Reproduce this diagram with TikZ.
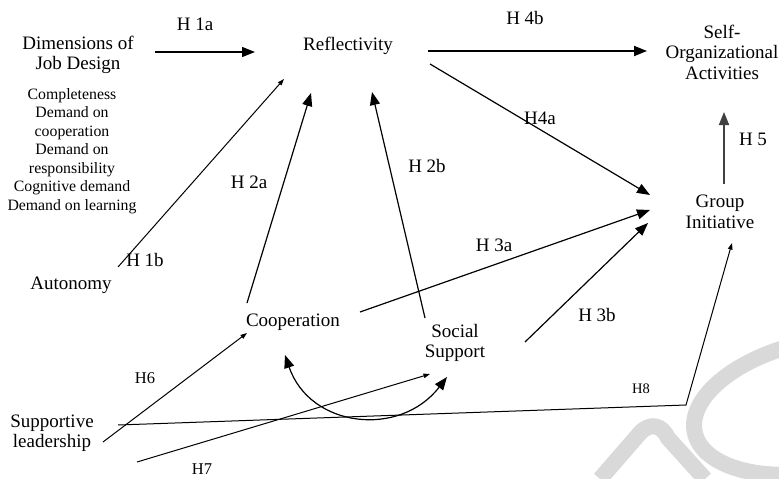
\documentclass[tikz,border=0pt]{standalone}
\usepackage{fontspec}
\setmainfont{Liberation Serif}
\usetikzlibrary{calc,positioning,arrows.meta}
\tikzstyle{var}       = [align=center, inner sep=0pt, font=\fontsize{19}{20.5}\selectfont]
\tikzstyle{facet}     = [align=center, inner sep=0pt, font=\fontsize{15.8}{18.5}\selectfont]
\tikzstyle{hyp}       = [inner sep=0pt, font=\fontsize{19}{20}\selectfont]
\tikzstyle{arrow}     = [line width=1.2pt, -{Triangle[length=13pt,width=10pt]}]
\tikzstyle{thinarrow} = [line width=1pt, -{Triangle[length=6.5pt,width=4.5pt]}]
\tikzstyle{wmark}     = [line width=16pt, black!15]

\begin{document}
\begin{tikzpicture}[x=1pt,y=-1pt]
    \useasboundingbox (0,0) rectangle (779,479);
    \begin{scope}
        \clip (0,0) rectangle (779,479);
        \draw[wmark, rotate around={12:(819,406)}] (819,406) ellipse [x radius=127, y radius=65];
        \draw[wmark] (600,479) -- (640,433) .. controls (650,422) and (662,425) .. (668,438) -- (705,479);
    \end{scope}

    \node[var] (dims) at (78,55) {Dimensions of\\Job Design};
    \node[facet] (facets) at (72,151) {Completeness\\Demand on\\cooperation\\Demand on\\responsibility\\Cognitive demand\\Demand on learning};
    \node[var] (refl) at (348,46) {Reflectivity};
    \node[var] (auto) at (71,285) {Autonomy};
    \node[var] (coop) at (293,322) {Cooperation};
    \node[var] (soc) at (455,343) {Social\\Support};
    \node[var] (self) at (722,52) {Self-\\Organizational\\Activities};
    \node[var] (grp) at (720,212) {Group\\Initiative};
    \node[var] (lead) at (52,433) {Supportive\\leadership};

    \node[hyp] (h1a) at (195,24) {H 1a};
    \node[hyp] (h1b) at (145,260) {H 1b};
    \node[hyp] (h2a) at (249,182) {H 2a};
    \node[hyp] (h2b) at (427,166) {H 2b};
    \node[hyp] (h4b) at (525,18) {H 4b};
    \node[hyp] (h4a) at (540,118) {H4a};
    \node[hyp] (h5) at (753,139) {H 5};
    \node[hyp] (h3a) at (494,245) {H 3a};
    \node[hyp] (h3b) at (597,315) {H 3b};
    \node[hyp, font=\fontsize{16.5}{18}\selectfont] (h6) at (145,378) {H6};
    \node[hyp, font=\fontsize{16.5}{18}\selectfont] (h7) at (202,469) {H7};
    \node[hyp, font=\fontsize{14.5}{16}\selectfont] (h8) at (641,389) {H8};

    \draw[arrow] ($(dims)+(77,-3)$) -- ($(refl)+(-93,6)$);
    \draw[thinarrow] ($(auto)+(47,-18)$) -- ($(refl)+(-64,33)$);
    \draw[arrow] ($(coop)+(-46,-19)$) -- ($(refl)+(-37,47)$);
    \draw[arrow] ($(soc)+(-30,-25)$) -- ($(refl)+(24,46)$);
    \draw[arrow, line width=1.8pt] ($(refl)+(80,5)$) -- ($(self)+(-75,-1)$);
    \draw[arrow] ($(refl)+(82,18)$) -- ($(grp)+(-70,-17)$);
    \draw[arrow, line width=1.8pt, black!75] ($(grp)+(4,-28)$) -- ($(self)+(2,60)$);
    \draw[arrow] ($(coop)+(67,-10)$) -- ($(grp)+(-70,-2)$);
    \draw[arrow] ($(soc)+(70,-1)$) -- ($(grp)+(-72,11)$);
    \draw[thinarrow] ($(lead)+(51,9)$) -- ($(coop)+(-46,11)$);
    \draw[thinarrow] ($(lead)+(85,29)$) -- ($(soc)+(-25,31)$);
    \coordinate (bend) at (686,405);
    \draw[thinarrow] ($(lead)+(66,-8)$) -- (bend) -- ($(grp)+(12,31)$);
    \draw[arrow, {Triangle[length=13pt,width=10pt]}-{Triangle[length=13pt,width=10pt]}]
        ($(coop)+(-8,33)$) .. controls +(25,73) and +(-47,61) .. ($(soc)+(-8,34)$);
\end{tikzpicture}
\end{document}
